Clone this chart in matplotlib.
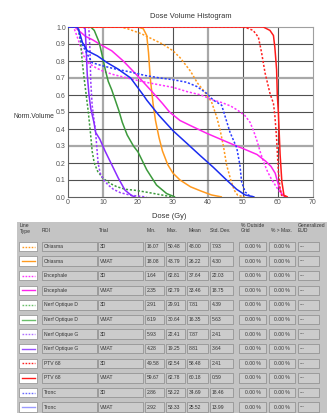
import matplotlib
matplotlib.use("Agg")
import matplotlib.pyplot as plt
from matplotlib.patches import Rectangle
from matplotlib.lines import Line2D

plt.rcParams['font.family'] = ['Liberation Sans', 'DejaVu Sans']

# ---------------- DVH curve data (dose in Gy, normalized volume) ----------------
chiasma_3d_dose = [0, 15, 17, 19, 21, 24, 27, 30, 32, 35, 37, 39, 41, 42.5, 43.5, 44.4, 45.3, 46.5, 47.5, 48.5, 50.5]
chiasma_3d_vol = [1, 1, 0.99, 0.975, 0.96, 0.93, 0.9, 0.86, 0.82, 0.74, 0.67, 0.62, 0.56, 0.47, 0.39, 0.3, 0.19, 0.1, 0.04, 0.01, 0]

chiasma_vmat_dose = [0, 20, 21.5, 22.5, 23, 23.5, 24.3, 25, 26, 27, 28.5, 30, 32, 35, 38, 41, 44]
chiasma_vmat_vol = [1, 1, 0.99, 0.95, 0.85, 0.7, 0.55, 0.45, 0.35, 0.27, 0.19, 0.14, 0.1, 0.06, 0.035, 0.012, 0]

enceph_3d_dose = [0, 1.6, 2.5, 3.5, 4.5, 6, 8, 10, 13, 17, 21, 26, 30, 34, 38, 41.5, 44, 46.5, 48.5, 50.5, 52, 53, 54, 55, 56, 57, 58, 59.5, 60.5, 61.5, 62.6]
enceph_3d_vol = [1, 1, 0.95, 0.89, 0.83, 0.785, 0.76, 0.74, 0.72, 0.7, 0.68, 0.66, 0.645, 0.62, 0.6, 0.57, 0.555, 0.535, 0.51, 0.48, 0.44, 0.39, 0.33, 0.26, 0.2, 0.15, 0.11, 0.06, 0.03, 0.005, 0]

enceph_vmat_dose = [0, 2, 3, 5, 7, 9, 12.5, 15.8, 20, 24, 27, 29, 32, 35, 39.6, 43, 47, 50, 54, 56.5, 58, 59.2, 60, 61, 62]
enceph_vmat_vol = [1, 1, 0.98, 0.945, 0.925, 0.9, 0.86, 0.8, 0.71, 0.62, 0.55, 0.5, 0.45, 0.42, 0.375, 0.345, 0.31, 0.285, 0.25, 0.21, 0.18, 0.14, 0.08, 0.02, 0]

nod_3d_dose = [0, 2.9, 3.6, 4.1, 4.6, 5.2, 5.8, 6.4, 6.9, 7.5, 8.5, 10, 12, 14, 16.5, 19, 22, 26, 29.9]
nod_3d_vol = [1, 1, 0.91, 0.79, 0.7, 0.6, 0.5, 0.38, 0.27, 0.2, 0.15, 0.11, 0.08, 0.06, 0.045, 0.04, 0.03, 0.015, 0]

nod_vmat_dose = [0, 6.5, 7.5, 8.9, 9.8, 10.8, 11.5, 12.5, 13.5, 14.5, 15.5, 16.9, 18.7, 20, 22.5, 25.3, 28.2, 30.6]
nod_vmat_vol = [1, 1, 0.98, 0.91, 0.83, 0.735, 0.68, 0.63, 0.57, 0.51, 0.44, 0.365, 0.3, 0.265, 0.16, 0.07, 0.02, 0]

nog_3d_dose = [0, 5.9, 6.1, 6.3, 6.5, 6.9, 7.4, 7.9, 8.2, 8.6, 9.2, 10.2, 11.5, 13, 15, 18, 22.4]
nog_3d_vol = [1, 1, 0.95, 0.85, 0.68, 0.54, 0.46, 0.38, 0.3, 0.2, 0.14, 0.1, 0.07, 0.045, 0.025, 0.01, 0]

nog_vmat_dose = [0, 4.3, 4.9, 5.2, 5.5, 6.0, 6.5, 7.4, 7.9, 9.1, 10.6, 12.5, 14.4, 16.3, 18.2, 19.25]
nog_vmat_vol = [1, 1, 0.99, 0.87, 0.72, 0.6, 0.52, 0.44, 0.38, 0.34, 0.27, 0.19, 0.11, 0.04, 0.008, 0]

ptv_3d_dose = [0, 49.6, 51, 52.9, 54.4, 55.3, 56.3, 57.7, 58.7, 59.1, 59.6, 60.1, 60.6, 61, 62.5]
ptv_3d_vol = [1, 1, 0.995, 0.98, 0.94, 0.85, 0.73, 0.61, 0.55, 0.48, 0.345, 0.15, 0.05, 0.01, 0]

ptv_vmat_dose = [0, 55.8, 57.7, 58.7, 59.1, 59.6, 59.8, 60.1, 60.6, 61.1, 61.7, 62.8]
ptv_vmat_vol = [1, 1, 0.98, 0.95, 0.88, 0.75, 0.6, 0.5, 0.25, 0.09, 0.01, 0]

tronc_3d_dose = [0, 2.9, 3.6, 4.5, 5.5, 6.9, 9.3, 13.1, 17.9, 22, 26.3, 30, 33.9, 36.8, 39.6, 41.5, 43.9, 46.3, 48.2, 49.1, 49.6, 50.6, 52, 53.2]
tronc_3d_vol = [1, 1, 0.92, 0.88, 0.84, 0.79, 0.775, 0.755, 0.735, 0.715, 0.7, 0.69, 0.675, 0.65, 0.61, 0.57, 0.54, 0.38, 0.29, 0.19, 0.09, 0.03, 0.005, 0]

tronc_vmat_dose = [0, 2.7, 3.4, 4.1, 5.5, 8.4, 11.2, 14.1, 17.9, 21.5, 22.5, 26, 30, 34, 37.7, 41.5, 45.3, 48.2, 50.6, 53.3]
tronc_vmat_vol = [1, 1, 0.96, 0.91, 0.86, 0.83, 0.79, 0.755, 0.7, 0.6, 0.57, 0.48, 0.39, 0.315, 0.245, 0.175, 0.1, 0.045, 0.012, 0]

# ---------------- Table data ----------------
rois = ["Chiasma", "Chiasma", "Encephale", "Encephale", "Nerf Optique D", "Nerf Optique D",
        "Nerf Optique G", "Nerf Optique G", "PTV 68", "PTV 68", "Tronc", "Tronc"]
trials = ["3D", "VMAT"] * 6
mins = ["16.07", "18.08", "1.64", "2.35", "2.91", "6.19", "5.93", "4.28", "49.58", "59.67", "2.86", "2.92"]
maxs = ["50.48", "43.79", "62.81", "62.79", "29.91", "30.64", "22.41", "19.25", "62.54", "62.78", "53.22", "53.33"]
means = ["48.00", "26.22", "37.64", "33.46", "7.81", "16.35", "7.87", "8.81", "58.48", "60.18", "34.69", "25.52"]
stds = ["7.93", "4.30", "22.03", "18.75", "4.39", "5.63", "2.41", "3.64", "2.41", "0.59", "18.46", "13.99"]
outside = ["0.00 %"] * 12
over_max = ["0.00 %"] * 12
geud = ["---"] * 12
headers = ["Line\nType", "ROI", "Trial", "Min.", "Max.", "Mean", "Std. Dev.", "% Outside\nGrid", "% > Max.", "Generalized\nEUD"]

curves = [
    (chiasma_3d_dose, chiasma_3d_vol, '#ff9a1f', 'dot'),
    (chiasma_vmat_dose, chiasma_vmat_vol, '#ff9a1f', 'solid'),
    (enceph_3d_dose, enceph_3d_vol, '#ff33ff', 'dot'),
    (enceph_vmat_dose, enceph_vmat_vol, '#ff22ee', 'solid'),
    (nod_3d_dose, nod_3d_vol, '#3c9a3c', 'dot'),
    (nod_vmat_dose, nod_vmat_vol, '#3c9a3c', 'solid'),
    (nog_3d_dose, nog_3d_vol, '#9a3cff', 'dot'),
    (nog_vmat_dose, nog_vmat_vol, '#8a2cff', 'solid'),
    (ptv_3d_dose, ptv_3d_vol, '#ff2020', 'dot'),
    (ptv_vmat_dose, ptv_vmat_vol, '#ff1a1a', 'solid'),
    (tronc_3d_dose, tronc_3d_vol, '#2a3cff', 'dot'),
    (tronc_vmat_dose, tronc_vmat_vol, '#1a2cf0', 'solid'),
]
legend_colors = ['#ff9a1f', '#ff9a1f', '#ff33ff', '#ff22ee', '#6abf6a', '#6abf6a',
                 '#b070ff', '#9a50ff', '#ff2020', '#ff1a1a', '#6a6aff', '#9a9aff']

W, H = 331, 413
fig = plt.figure(figsize=(W / 100, H / 100), dpi=100)
fig.patch.set_facecolor('white')

# ---------------- Chart ----------------
L, R, T, B = 68, 313, 27, 197
ax = fig.add_axes([L / W, 1 - B / H, (R - L) / W, (B - T) / H])
ax.set_xlim(0, 70)
ax.set_ylim(0, 1.0)
for x in range(10, 70, 10):
    light = x in (10, 40)
    ax.axvline(x, color='#a8a8a8' if light else '#505050', lw=1.6 if light else 0.8, zorder=1)
for i in range(1, 10):
    y = i / 10
    light = i in (3, 7)
    ax.axhline(y, color='#a8a8a8' if light else '#505050', lw=1.6 if light else 0.8, zorder=1)

for d, v, c, s in curves:
    ls = (0, (1.4, 1.2)) if s == 'dot' else '-'
    ax.plot(d, v, color=c, lw=1.1, ls=ls, zorder=3, solid_capstyle='butt')

ax.set_xticks(range(0, 71, 10))
ax.set_yticks([i / 10 for i in range(11)])
ax.set_yticklabels([f"{i / 10:.1f}" for i in range(11)])
ax.tick_params(length=0, labelsize=5.0, colors='#555555', pad=1.5)
for sp in ['left', 'bottom']:
    ax.spines[sp].set_color('#606060')
    ax.spines[sp].set_linewidth(0.8)
for sp in ['right', 'top']:
    ax.spines[sp].set_color('#a0a0a0')
    ax.spines[sp].set_linewidth(0.8)

fig.text(190.5 / W, 1 - 16 / H, "Dose Volume Histogram", ha='center', va='center', fontsize=5.4, color='#333333')
fig.text(13 / W, 1 - 116 / H, "Norm.Volume", ha='left', va='center', fontsize=4.9, color='#333333')
fig.text(169 / W, 1 - 216 / H, "Dose (Gy)", ha='center', va='center', fontsize=5.4, color='#333333')

# ---------------- Table ----------------
tax = fig.add_axes([0, 0, 1, 1])
tax.set_xlim(0, W)
tax.set_ylim(H, 0)
tax.axis('off')
tax.add_patch(Rectangle((17, 222), 310, 191, facecolor='#c4c4c4', edgecolor='none', zorder=0))

hx = [20, 42, 99, 147, 167, 189, 210, 241, 271, 298]
for x, h in zip(hx, headers):
    tax.text(x, 233.5, h, ha='left', va='bottom', fontsize=3.6, color='#333333', linespacing=1.1)

cols = [(42, 55, 'l'), (98, 45, 'l'), (145, 18.5, 'l'), (166, 19, 'l'), (187, 21, 'l'),
        (210, 23, 'l'), (239, 27, 'c'), (269, 26, 'c'), (298, 21, 'l')]
values = [rois, trials, mins, maxs, means, stds, outside, over_max, geud]
bh = 9.5
for i in range(12):
    yc = 246.5 + i * 14.6
    # line type sample
    tax.add_patch(Rectangle((19, yc - bh / 2), 18, bh, facecolor='white', edgecolor='#8c8c8c', lw=0.5, zorder=1))
    ls = (0, (1.2, 1.0)) if trials[i] == '3D' else '-'
    tax.add_line(Line2D([21.5, 34.5], [yc, yc], color=legend_colors[i], lw=1.0, ls=ls, zorder=2))
    for (x0, w, al), col in zip(cols, values):
        tax.add_patch(Rectangle((x0, yc - bh / 2), w, bh, facecolor='#cccccc', edgecolor='#8a8a8a', lw=0.5, zorder=1))
        if al == 'c':
            tax.text(x0 + w / 2, yc, col[i], ha='center', va='center', fontsize=3.6, color='#333333', zorder=2)
        else:
            tax.text(x0 + 2, yc, col[i], ha='left', va='center', fontsize=3.6, color='#333333', zorder=2)

fig.savefig("out.png", dpi=100)
